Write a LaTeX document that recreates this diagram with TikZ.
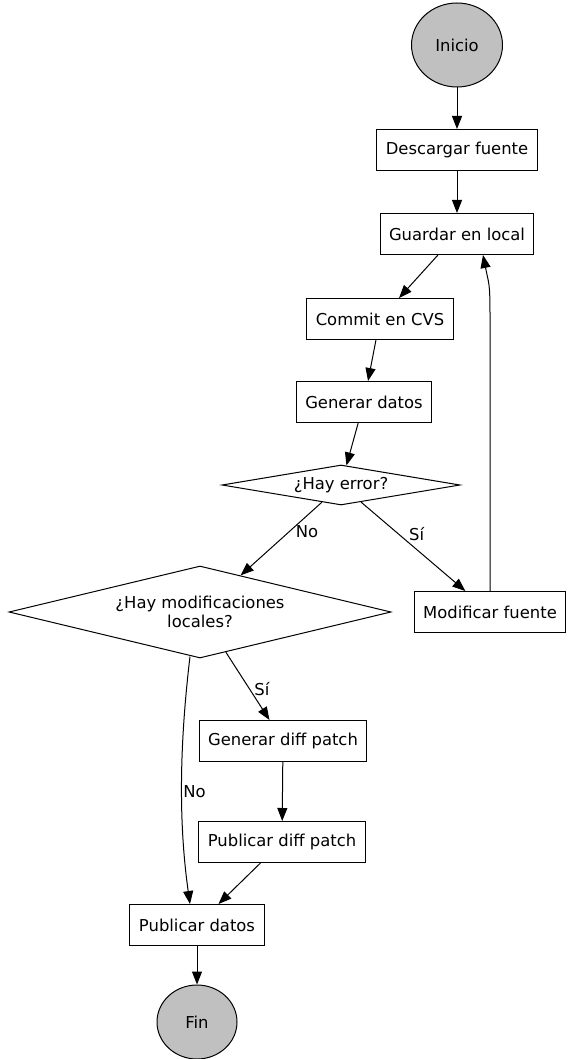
\documentclass[tikz,border=0pt]{standalone}
\usepackage{fontspec}
\setmainfont{DejaVu Sans}
\usetikzlibrary{shapes.geometric,arrows.meta}
\definecolor{termgray}{HTML}{C0C0C0}

\begin{document}
\begin{tikzpicture}[x=1pt, y=-1pt]
    \tikzset{every node/.style={font=\fontsize{16.4}{19.5}\selectfont}}
    \tikzset{process/.style={rectangle, draw, line width=1pt, minimum height=41pt, inner xsep=9pt}}
    \tikzset{terminal/.style={ellipse, draw, line width=1pt, fill=termgray, inner sep=0pt}}
    \tikzset{decision/.style={diamond, draw, line width=1pt, inner sep=0pt, align=center}}
    \tikzset{flow/.style={-{Triangle[length=13pt, width=10pt]}, line width=1pt}}
    \tikzset{answer/.style={right, inner sep=4pt}}

    % page
    \useasboundingbox (0,0) rectangle (567,1059);

    % steps
    \node (inicio)    at (457,45)   [terminal, minimum width=91pt, minimum height=84pt] {Inicio};
    \node (descargar) at (457,150)  [process] {Descargar fuente};
    \node (guardar)   at (457,234)  [process] {Guardar en local};
    \node (commit)    at (380,319)  [process] {Commit en CVS};
    \node (generar)   at (364,402)  [process] {Generar datos};
    \node (error)     at (341,485)  [decision, aspect=5.95, minimum width=238pt, minimum height=40pt] {¿Hay error?};
    \node (locales)   at (200,612)  [decision, aspect=4.15, minimum width=382pt, minimum height=92pt] {¿Hay modificaciones\\locales?};
    \node (modificar) at (490,612)  [process] {Modificar fuente};
    \node (diff)      at (283,741)  [process] {Generar diff patch};
    \node (pubdiff)   at (282,842)  [process] {Publicar diff patch};
    \node (datos)     at (197,925)  [process] {Publicar datos};
    \node (fin)       at (197,1022) [terminal, minimum width=80pt, minimum height=74pt] {Fin};

    % flow
    \draw[flow] (inicio) -- (descargar);
    \draw[flow] (descargar) -- (guardar);
    \draw[flow] (guardar) -- (commit);
    \draw[flow] (commit) -- (generar);
    \draw[flow] (generar) -- (error);
    \draw[flow] (error) -- node[answer, pos=0.4, inner sep=6pt] {No} (locales);
    \draw[flow] (error) -- node[answer, pos=0.36, inner sep=10pt] {Sí} (modificar);
    \draw[flow] (locales) -- node[answer, pos=0.55] {Sí} (diff);
    \draw[flow] (diff) -- (pubdiff);
    \draw[flow] (pubdiff) -- (datos);
    \draw[flow] (datos) -- (fin);

    % curved ones
    \draw[flow] ([xshift=-10pt, yshift=2pt]locales.south) .. controls +(-10,84) and +(-12,-85) .. node[answer, pos=0.55, inner sep=1pt] {No} ([xshift=-7pt]datos.north);
    \draw[flow] (modificar.north) -- ([yshift=274pt]modificar.north) .. controls +(0,-35) and +(6,30) .. ([xshift=26pt]guardar.south);

\end{tikzpicture}
\end{document}
